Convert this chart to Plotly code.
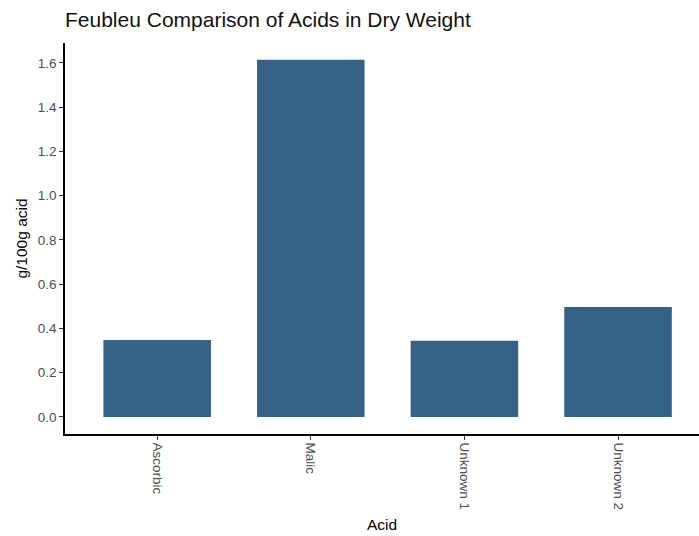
import plotly.graph_objects as go

acids = ["Ascorbic", "Malic", "Unknown 1", "Unknown 2"]
values = [0.348, 1.614, 0.344, 0.497]
y_ticks = [0.0, 0.2, 0.4, 0.6, 0.8, 1.0, 1.2, 1.4, 1.6]

fig = go.Figure(go.Bar(x=acids, y=values, width=0.7, marker=dict(color="#366287", line=dict(width=0))))

W, H = 699, 536
fig.update_layout(
    width=W, height=H,
    margin=dict(l=65, r=0, t=43, b=102),
    paper_bgcolor="white", plot_bgcolor="white",
    font=dict(family="Liberation Sans, Arial, sans-serif"),
    title=dict(text="Feubleu Comparison of Acids in Dry Weight", x=65/W, xanchor="left",
               y=1-20/H, yanchor="middle", font=dict(size=21, color="#111111")),
    showlegend=False,
)
fig.update_xaxes(
    range=[-0.6, 3.527], showline=True, linecolor="black", linewidth=1.5,
    ticks="outside", ticklen=4, tickcolor="#333333", tickangle=90,
    tickfont=dict(size=13.5, color="#4D4D4D"), showgrid=False,
    title=dict(text="Acid", font=dict(size=15.5, color="black"), standoff=10),
)
fig.update_yaxes(
    range=[-0.077, 1.69], tickvals=y_ticks, ticktext=[f"{v:.1f}" for v in y_ticks],
    showline=True, linecolor="black", linewidth=1.5, zeroline=False,
    ticks="outside", ticklen=4, tickcolor="#333333",
    tickfont=dict(size=13.5, color="#4D4D4D"), showgrid=False,
    title=dict(text="g/100g acid", font=dict(size=15.5, color="black"), standoff=6),
)
fig.write_html("out.html", config={"displayModeBar": False},
               post_script="document.body.style.margin='0';document.body.style.overflow='hidden';")
